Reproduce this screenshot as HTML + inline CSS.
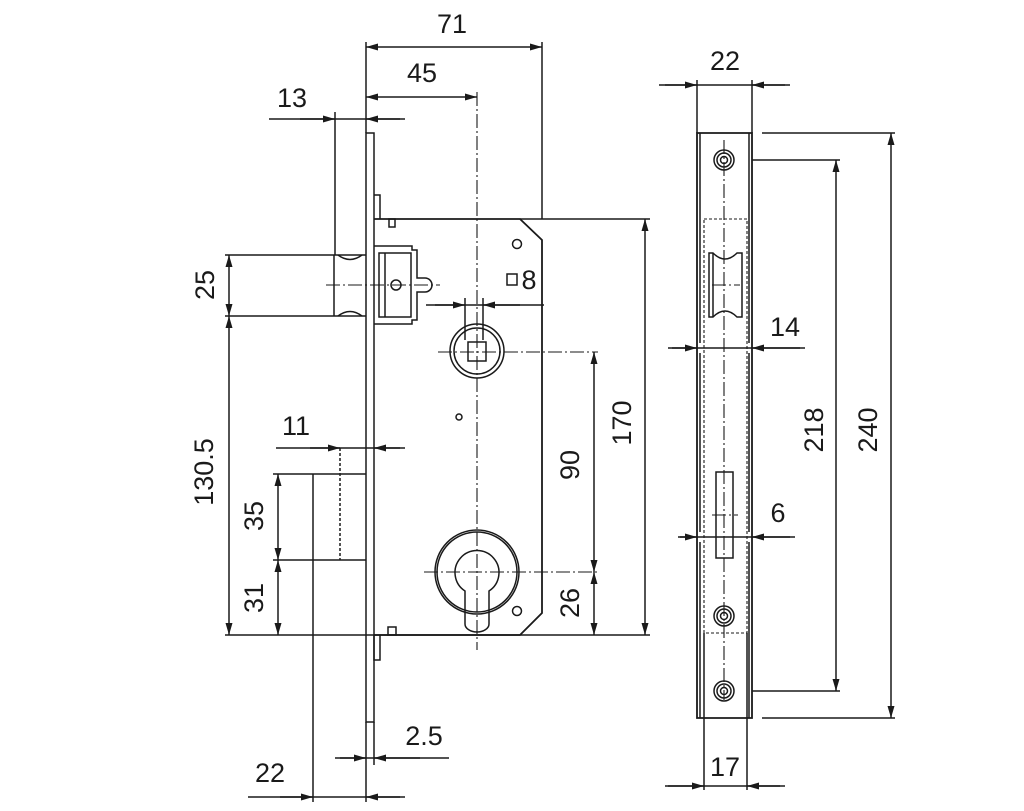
<!DOCTYPE html>
<html><head><meta charset="utf-8"><style>
html,body{margin:0;padding:0;background:#fff;}
svg{display:block;}
text{font-family:"Liberation Sans",Arial,sans-serif;font-size:27px;fill:#1a1a1a;}
</style></head><body>
<svg width="1024" height="811" viewBox="0 0 1024 811" xmlns="http://www.w3.org/2000/svg">
<defs>
<marker id="a" markerUnits="userSpaceOnUse" markerWidth="13" markerHeight="8" refX="12" refY="3.5" orient="auto-start-reverse">
<path d="M0,0 L12,3.5 L0,7 z" fill="#1a1a1a"/></marker>
</defs>
<g stroke="#1a1a1a" stroke-width="1.5" fill="none">
<g stroke-dasharray="14 3 2 3" stroke-width="1.1">
<line x1="477" y1="92" x2="477" y2="650"/>
<line x1="326" y1="285" x2="440" y2="285"/>
<line x1="438" y1="352" x2="598" y2="352"/>
<line x1="424" y1="572" x2="598" y2="572"/>
<line x1="724" y1="140" x2="724" y2="700"/>
<line x1="712" y1="285" x2="740" y2="285"/>
<line x1="712" y1="515" x2="738" y2="515"/>
</g>
<rect x="366" y="133" width="8" height="589"/>
<path d="M374,195 H380 V219"/>
<path d="M374,635 V660 H380 V635"/>
<path d="M374,219 H520 L542,240 V613 L520,635 H374" stroke-width="1.8"/>
<rect x="389" y="219" width="6" height="8"/>
<rect x="388" y="627" width="8" height="8"/>
<circle cx="517" cy="244" r="4.5"/>
<circle cx="517" cy="611" r="4.5"/>
<circle cx="459" cy="417" r="3"/>
<path d="M334,255 H366 M334,316 H366 M334,255 V316"/>
<path d="M338,255 Q350,264 362,255 M338,316 Q350,307 362,316"/>
<path d="M374,246 H412 V250 H417 V278 H425 A7,7 0 0 1 425,292 H417 V320 H412 V324 H374"/>
<rect x="379" y="253" width="32" height="64"/>
<path d="M385,253 V317"/>
<circle cx="396" cy="285" r="5"/>
<circle cx="477" cy="351" r="27"/>
<circle cx="477" cy="351" r="23"/>
<rect x="468" y="342" width="18" height="19"/>
<circle cx="477" cy="572" r="42"/>
<circle cx="477" cy="572" r="40"/>
<path d="M465,591 A22,22 0 1 1 489,591 V624 A12,8 0 0 1 465,624 Z"/>
<path d="M313,474 H366 M313,560 H366 M313,474 V560"/>
<line x1="340" y1="448" x2="340" y2="560" stroke-dasharray="3 2"/>
<line x1="366" y1="42" x2="366" y2="133"/>
<line x1="542" y1="42" x2="542" y2="219"/>
<line x1="335" y1="112" x2="335" y2="255"/>
<line x1="225" y1="255" x2="334" y2="255"/>
<line x1="225" y1="316" x2="334" y2="316"/>
<line x1="520" y1="219" x2="650" y2="219"/>
<line x1="225" y1="635" x2="650" y2="635"/>
<line x1="273" y1="474" x2="313" y2="474"/>
<line x1="273" y1="560" x2="313" y2="560"/>
<line x1="313" y1="560" x2="313" y2="802"/>
<line x1="366" y1="722" x2="366" y2="802"/>
<line x1="374" y1="722" x2="374" y2="765"/>
<line x1="465" y1="298" x2="465" y2="340"/>
<line x1="483" y1="298" x2="483" y2="340"/>
<line x1="366" y1="47" x2="542" y2="47" marker-start="url(#a)" marker-end="url(#a)"/>
<line x1="366" y1="97" x2="477" y2="97" marker-start="url(#a)" marker-end="url(#a)"/>
<line x1="269" y1="119" x2="405" y2="119"/>
<line x1="300" y1="119" x2="335" y2="119" marker-end="url(#a)"/>
<line x1="400" y1="119" x2="366" y2="119" marker-end="url(#a)"/>
<line x1="229" y1="255" x2="229" y2="316" marker-start="url(#a)" marker-end="url(#a)"/>
<line x1="229" y1="316" x2="229" y2="635" marker-start="url(#a)" marker-end="url(#a)"/>
<line x1="645" y1="219" x2="645" y2="635" marker-start="url(#a)" marker-end="url(#a)"/>
<line x1="426" y1="305" x2="544" y2="305"/>
<line x1="435" y1="305" x2="465" y2="305" marker-end="url(#a)"/>
<line x1="520" y1="305" x2="483" y2="305" marker-end="url(#a)"/>
<line x1="594" y1="352" x2="594" y2="572" marker-start="url(#a)" marker-end="url(#a)"/>
<line x1="594" y1="572" x2="594" y2="635" marker-start="url(#a)" marker-end="url(#a)"/>
<line x1="276" y1="448" x2="405" y2="448"/>
<line x1="310" y1="448" x2="340" y2="448" marker-end="url(#a)"/>
<line x1="400" y1="448" x2="374" y2="448" marker-end="url(#a)"/>
<line x1="278" y1="474" x2="278" y2="560" marker-start="url(#a)" marker-end="url(#a)"/>
<line x1="278" y1="560" x2="278" y2="635" marker-start="url(#a)" marker-end="url(#a)"/>
<line x1="335" y1="758" x2="449" y2="758"/>
<line x1="340" y1="758" x2="366" y2="758" marker-end="url(#a)"/>
<line x1="420" y1="758" x2="374" y2="758" marker-end="url(#a)"/>
<line x1="248" y1="797" x2="405" y2="797"/>
<line x1="280" y1="797" x2="313" y2="797" marker-end="url(#a)"/>
<line x1="400" y1="797" x2="366" y2="797" marker-end="url(#a)"/>
<path d="M697,133 H752 V718 H697 Z" stroke-width="1.8"/>
<path d="M700,133 V343 M700,353 V532 M700,542 V718 M749,133 V343 M749,353 V532 M749,542 V718"/>
<rect x="704" y="219" width="43" height="414" stroke-dasharray="3 2" stroke-width="1.1"/>
<path d="M704,633 V790 M747,633 V790"/>
<path d="M709,253 H713 Q725,265 737,253 H742 V317 H737 Q725,305 713,317 H709 Z"/>
<path d="M713,253 V317"/>
<rect x="716" y="472" width="17" height="86"/>
<g>
<circle cx="724" cy="160" r="10"/><circle cx="724" cy="160" r="7"/><circle cx="724" cy="160" r="3.5"/>
<circle cx="724" cy="616" r="10"/><circle cx="724" cy="616" r="7"/><circle cx="724" cy="616" r="3.5"/>
<circle cx="724" cy="691" r="10"/><circle cx="724" cy="691" r="7"/><circle cx="724" cy="691" r="3.5"/>
</g>
<line x1="697" y1="80" x2="697" y2="133"/>
<line x1="752" y1="80" x2="752" y2="133"/>
<line x1="762" y1="133" x2="895" y2="133"/>
<line x1="762" y1="718" x2="895" y2="718"/>
<line x1="752" y1="160" x2="840" y2="160"/>
<line x1="752" y1="691" x2="840" y2="691"/>
<line x1="659" y1="85" x2="790" y2="85"/>
<line x1="665" y1="85" x2="697" y2="85" marker-end="url(#a)"/>
<line x1="785" y1="85" x2="752" y2="85" marker-end="url(#a)"/>
<line x1="891" y1="133" x2="891" y2="718" marker-start="url(#a)" marker-end="url(#a)"/>
<line x1="836" y1="160" x2="836" y2="691" marker-start="url(#a)" marker-end="url(#a)"/>
<line x1="668" y1="348" x2="805" y2="348"/>
<line x1="672" y1="348" x2="697" y2="348" marker-end="url(#a)"/>
<line x1="800" y1="348" x2="752" y2="348" marker-end="url(#a)"/>
<line x1="678" y1="537" x2="795" y2="537"/>
<line x1="680" y1="537" x2="697" y2="537" marker-end="url(#a)"/>
<line x1="790" y1="537" x2="752" y2="537" marker-end="url(#a)"/>
<line x1="665" y1="786" x2="785" y2="786"/>
<line x1="668" y1="786" x2="704" y2="786" marker-end="url(#a)"/>
<line x1="780" y1="786" x2="747" y2="786" marker-end="url(#a)"/>
<rect x="507" y="274" width="10" height="11"/>
</g>
<g text-anchor="middle">
<text x="452" y="33">71</text>
<text x="422" y="82">45</text>
<text x="292" y="107">13</text>
<text x="529" y="289">8</text>
<text x="296" y="435">11</text>
<text x="270" y="782">22</text>
<text x="424" y="745">2.5</text>
<text x="725" y="70">22</text>
<text x="785" y="336">14</text>
<text x="778" y="522">6</text>
<text x="725" y="776">17</text>
<g dominant-baseline="central">
<text transform="translate(205,285) rotate(-90)">25</text>
<text transform="translate(204,472) rotate(-90)">130.5</text>
<text transform="translate(254,516) rotate(-90)">35</text>
<text transform="translate(254,598) rotate(-90)">31</text>
<text transform="translate(570,465) rotate(-90)">90</text>
<text transform="translate(570,603) rotate(-90)">26</text>
<text transform="translate(622,423) rotate(-90)">170</text>
<text transform="translate(814,430) rotate(-90)">218</text>
<text transform="translate(868,430) rotate(-90)">240</text>
</g>
</g>
</svg>
</body></html>
